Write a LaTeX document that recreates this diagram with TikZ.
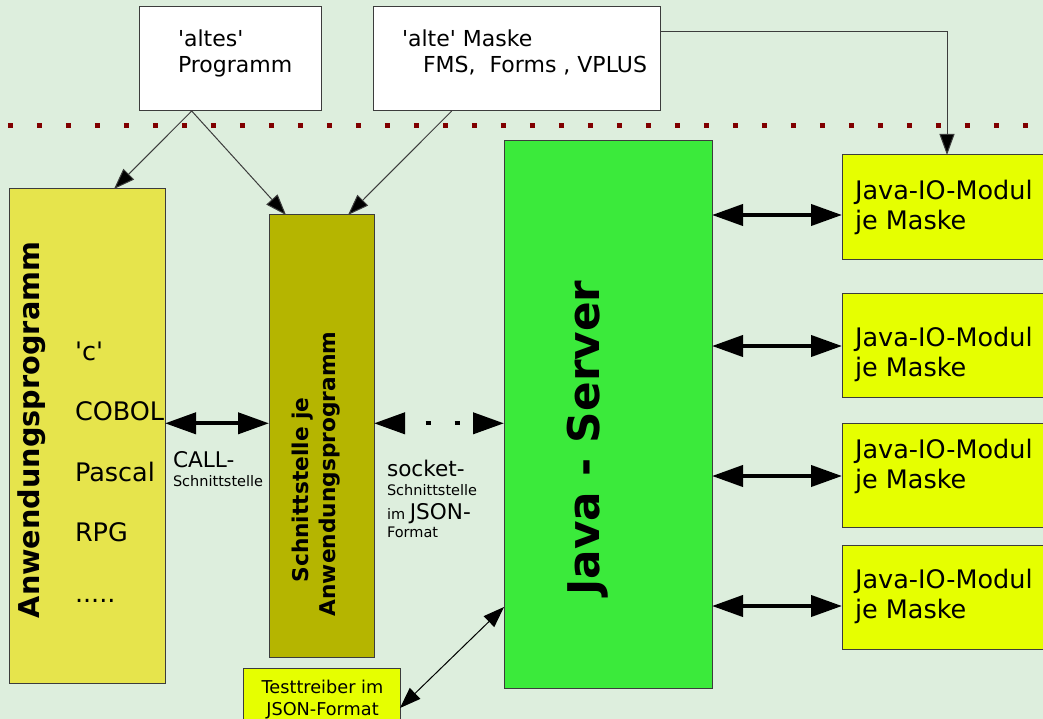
\documentclass[tikz,border=0pt]{standalone}
\usepackage{fontspec}
\setmainfont{DejaVu Sans}[Ligatures=TeXOff]
\usetikzlibrary{arrows.meta,calc}
\definecolor{bgcol}{RGB}{221,238,221}
\definecolor{javagreen}{RGB}{59,234,59}
\definecolor{appyellow}{RGB}{230,228,76}
\definecolor{ifolive}{RGB}{181,181,0}
\definecolor{modlime}{RGB}{230,255,0}
\definecolor{dotred}{RGB}{128,0,0}
\definecolor{edgegrey}{RGB}{60,60,60}
\newcommand{\fs}[2]{\fontsize{#1}{#2}\selectfont}
\begin{document}
\begin{tikzpicture}[x=1pt,y=-1pt,
  box/.style={draw=edgegrey, line width=1pt, inner sep=0pt, outer sep=0pt},
  txt/.style={inner sep=0pt, outer sep=0pt, anchor=base west},
  thinarrow/.style={draw=edgegrey, line width=1pt, -{Triangle[length=21pt,width=15pt,fill=black]}},
  thinboth/.style={draw=black, line width=1pt, {Triangle[length=21pt,width=15pt]}-{Triangle[length=21pt,width=15pt]}},
  bigboth/.style={draw=black, line width=4pt, {Triangle[length=31pt,width=21pt]}-{Triangle[length=31pt,width=21pt]}},
  big/.style={font=\fs{25.5}{31}},
  mid/.style={font=\fs{22}{27}},
  lbl/.style={font=\fs{21.6}{26}},
  small/.style={font=\fs{14.5}{18}},
]
\useasboundingbox (0,0) rectangle (1043,719);
\fill[bgcol] (0,0) rectangle (1043,719);

% legacy program and legacy screen forms
\node[box, fill=white, minimum width=182pt, minimum height=104pt] (altes) at (230,59) {};
\node[box, fill=white, minimum width=287pt, minimum height=104pt] (maske) at (516.5,59) {};
\node[txt, mid] (altes1) at (178,46.5) {'altes'};
\node[txt, mid] (altes2) at (178,73) {Programm};
\node[txt, mid] (maske1) at (402,46.5) {'alte' Maske};
\node[txt, mid] (maske2) at (423,73) {FMS,\ \ Forms , VPLUS};

% separator
\draw[dotred, line width=5.5pt, dash pattern=on 5.5pt off 23.5pt] (7.75,125.5) -- (1043,125.5);

% application program
\node[box, fill=appyellow, minimum width=156pt, minimum height=494pt] (anw) at (87,436) {};
\node[font=\bfseries\fs{28.7}{34}, rotate=90, inner sep=0pt] (anwlabel) at (32,430) {Anwendungsprogramm};
\node[txt, big] (lang1) at (75,360) {'c'};
\node[txt, big] (lang2) at (75,420.4) {COBOL};
\node[txt, big] (lang3) at (75,481) {Pascal};
\node[txt, big] (lang4) at (75,541.5) {RPG};
\node[txt, big] (lang5) at (75,602) {.....};

% interface per program
\node[box, fill=ifolive, minimum width=105pt, minimum height=442pt] (schn) at (321.5,436) {};
\node[font=\bfseries\fs{21.7}{27}, rotate=90, align=center, inner sep=0pt] (schnlabel) at (316.5,474)
  {Schnittstelle je\hspace*{32pt}\\Anwendungsprogramm};

% server
\node[box, fill=javagreen, minimum width=208pt, minimum height=547pt] (java) at (608,414.5) {};
\node[font=\bfseries\fs{43.7}{50}, rotate=90, inner sep=0pt] (javalabel) at (588,438) {Java - Server};

% IO modules
\node[box, fill=modlime, minimum width=218pt, minimum height=104pt] (io1) at (951,207) {};
\node[box, fill=modlime, minimum width=218pt, minimum height=104pt] (io2) at (951,345) {};
\node[box, fill=modlime, minimum width=218pt, minimum height=104pt] (io3) at (951,475.5) {};
\node[box, fill=modlime, minimum width=218pt, minimum height=104pt] (io4) at (951,597) {};
\foreach \n/\b in {1/199.5, 2/346, 3/458.3, 4/588.3} {
  \node[txt, big] (iotA\n) at (855,\b) {Java-IO-Modul};
  \node[txt, big] (iotB\n) at (855,\b+30) {je Maske};
}

% test driver
\node[box, fill=modlime, minimum width=157pt, minimum height=80pt] (test) at (321.5,708) {};
\node[inner sep=0pt, anchor=base, font=\fs{17.7}{22}] (test1) at (322.5,693) {Testtreiber im};
\node[inner sep=0pt, anchor=base, font=\fs{17.7}{22}] (test2) at (322.5,715) {JSON-Format};

% interface labels
\node[txt, lbl] (call1) at (173,467) {CALL-};
\node[txt, small] (call2) at (173,486) {Schnittstelle};
\node[txt, lbl] (sock1) at (387,476.7) {socket-};
\node[txt, small] (sock2) at (387,495) {Schnittstelle};
\node[txt, small] (sock3) at (387,519) {im {\fs{21.6}{26}JSON-}};
\node[txt, small] (sock4) at (387,537) {Format};

% thin connectors
\draw[thinarrow] ([xshift=-38.3pt]altes.south) -- ([xshift=27pt]anw.north);
\draw[thinarrow] ([xshift=-38.3pt]altes.south) -- ([xshift=-35.5pt]schn.north);
\draw[thinarrow] ([xshift=-64.8pt]maske.south) -- ([xshift=26.5pt]schn.north);
\draw[thinarrow] ($(maske.east)+(0,-27)$) -| ($(io1.north)+(-4,0)$);
\draw[thinboth] ($(test.east)+(0,0)$) -- ($(java.west)+(0,192.5)$);

% thick connectors
\coordinate (callL) at ($(anw.east)+(0,-12.7)$);
\draw[bigboth] (callL) -- (schn.west |- callL);
\coordinate (sockL) at ($(schn.east)+(0,-12.7)$);
\draw[bigboth, dash pattern=on 5pt off 24pt, dash phase=7.5pt] (sockL) -- (java.west |- sockL);
\foreach \n/\d in {1/8, 2/1, 3/0.5, 4/9} {
  \coordinate (ioin\n) at ($(io\n.west)+(0,\d)$);
  \draw[bigboth] (java.east |- ioin\n) -- (ioin\n);
}
\end{tikzpicture}
\end{document}
